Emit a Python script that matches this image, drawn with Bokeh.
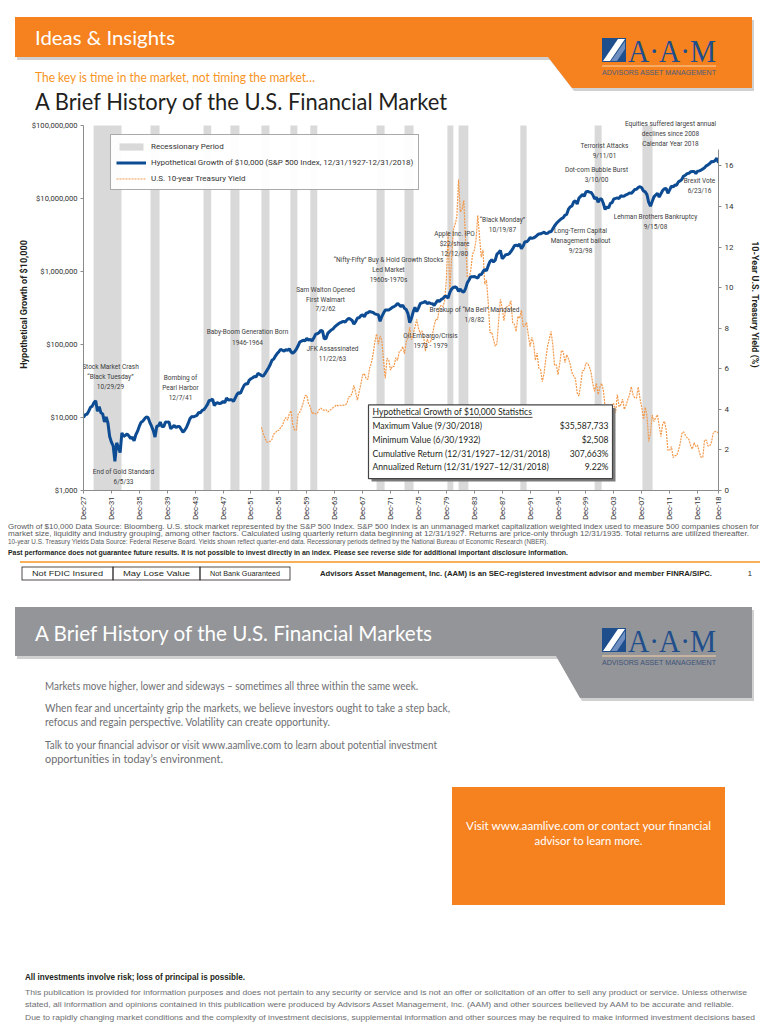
import numpy as np
from html import escape
from bokeh.plotting import figure
from bokeh.models import (Range1d, LinearAxis, LinearScale, FixedTicker, NumeralTickFormatter,
                          Legend, LegendItem, Div, LabelSet, ColumnDataSource)
from bokeh.layouts import column
from bokeh.embed import file_html
from bokeh.resources import INLINE
from bokeh.core.properties import value

NARROW = "Roboto"
SANS = "Lato"
SERIF = "Liberation Serif"

# ---------------- data ----------------
# Hypothetical growth of $10,000 (thousands of $), quarter ends from Dec-1927 to Dec-2018
growth_k = [
    10.0,
    10.93, 11.10, 12.20, 13.79,   # 1928
    14.30, 16.00, 17.00, 12.15,   # 1929
    14.10, 11.60, 11.20, 8.69,    # 1930
    10.20, 8.40, 5.50, 4.60,      # 1931
    4.10, 2.508, 4.50, 3.90,      # 1932
    3.31, 6.17, 5.50, 5.72,       # 1933
    5.95, 5.60, 5.15, 5.38,       # 1934
    4.80, 5.80, 6.50, 7.60,       # 1935
    8.60, 8.90, 9.60, 10.18,      # 1936
    10.00, 8.60, 7.60, 6.61,      # 1937
    5.40, 7.60, 7.70, 8.67,       # 1938
    7.50, 7.50, 8.70, 8.64,       # 1939
    8.70, 7.00, 7.40, 7.79,       # 1940
    7.30, 7.50, 7.50, 6.89,       # 1941
    6.30, 6.70, 7.30, 8.29,       # 1942
    9.60, 10.30, 10.20, 10.43,    # 1943
    10.70, 11.70, 11.60, 12.50,   # 1944
    12.80, 13.80, 15.00, 17.05,   # 1945
    17.20, 17.90, 14.60, 15.67,   # 1946
    15.90, 15.50, 15.80, 16.56,   # 1947
    15.90, 18.50, 17.30, 17.47,   # 1948
    17.50, 16.60, 18.60, 20.76,   # 1949
    21.90, 21.50, 24.50, 27.34,   # 1950
    29.10, 28.60, 32.50, 33.90,   # 1951
    35.00, 36.30, 36.10, 40.14,   # 1952
    39.00, 37.50, 36.80, 39.74,   # 1953
    43.50, 47.60, 52.80, 60.64,   # 1954
    63.00, 69.30, 75.00, 79.80,   # 1955
    86.00, 83.50, 81.00, 85.07,   # 1956
    83.00, 87.50, 79.00, 75.88,   # 1957
    80.00, 86.00, 96.00, 108.8,   # 1958
    111.0, 114.5, 112.0, 121.9,   # 1959
    114.0, 118.0, 112.0, 122.5,   # 1960
    138.0, 140.0, 145.0, 155.4,   # 1961
    153.0, 119.5, 121.0, 141.9,   # 1962
    150.0, 158.0, 163.0, 174.3,   # 1963
    183.0, 191.0, 198.0, 203.0,   # 1964
    207.0, 202.0, 218.0, 228.4,   # 1965
    222.0, 213.0, 190.0, 205.3,   # 1966
    230.0, 232.0, 248.0, 254.6,   # 1967
    240.0, 268.0, 272.0, 282.9,   # 1968
    278.0, 275.0, 263.0, 258.8,   # 1969
    255.0, 208.0, 242.0, 269.2,   # 1970
    296.0, 297.0, 297.0, 307.7,   # 1971
    323.0, 331.0, 342.0, 366.1,   # 1972
    348.0, 330.0, 346.0, 312.3,   # 1973
    301.0, 265.0, 199.0, 229.5,   # 1974
    280.0, 322.0, 282.0, 314.9,   # 1975
    362.0, 372.0, 378.0, 389.9,   # 1976
    362.0, 374.0, 364.0, 361.8,   # 1977
    344.0, 372.0, 404.0, 385.7,   # 1978
    414.0, 425.0, 454.0, 456.6,   # 1979
    431.0, 518.0, 574.0, 604.6,   # 1980
    614.0, 596.0, 536.0, 575.0,   # 1981
    534.0, 522.0, 582.0, 698.0,   # 1982
    764.0, 849.0, 844.0, 855.1,   # 1983
    833.0, 811.0, 902.0, 908.9,   # 1984
    994.0, 1070.0, 1025.0, 1201.6,    # 1985
    1370.0, 1450.0, 1350.0, 1423.9,   # 1986
    1727.0, 1815.0, 1932.0, 1497.9,   # 1987
    1585.0, 1697.0, 1703.0, 1749.6,   # 1988
    1875.0, 2035.0, 2252.0, 2300.7,   # 1989
    2232.0, 2371.0, 2046.0, 2229.4,   # 1990
    2550.0, 2545.0, 2680.0, 2909.4,   # 1991
    2836.0, 2890.0, 2981.0, 3130.5,   # 1992
    3267.0, 3282.0, 3365.0, 3446.7,   # 1993
    3316.0, 3330.0, 3493.0, 3491.5,   # 1994
    3831.0, 4197.0, 4530.0, 4804.3,   # 1995
    5062.0, 5288.0, 5452.0, 5909.3,   # 1996
    6068.0, 7127.0, 7661.0, 7883.0,   # 1997
    8982.0, 9279.0, 8356.0, 10137.0,  # 1998
    10642.0, 11391.0, 10680.0, 12266.0,   # 1999
    12547.0, 12213.0, 12094.0, 11150.0,   # 2000
    9828.0, 10404.0, 8877.0, 9823.0,      # 2001
    9850.0, 8531.0, 7058.0, 7652.0,       # 2002
    7411.0, 8552.0, 8778.0, 9848.0,       # 2003
    10015.0, 10187.0, 9997.0, 10922.0,    # 2004
    10687.0, 10832.0, 11222.0, 11457.0,   # 2005
    11924.0, 11752.0, 12418.0, 13267.0,   # 2006
    13351.0, 14186.0, 14475.0, 13997.0,   # 2007
    12673.0, 12327.0, 11296.0, 8818.0,    # 2008
    7848.0, 9102.0, 10522.0, 11155.0,     # 2009
    11755.0, 10433.0, 11619.0, 12839.0,   # 2010
    13579.0, 13652.0, 11759.0, 13109.0,   # 2011
    14759.0, 14354.0, 15265.0, 15206.0,   # 2012
    16900.0, 17400.0, 18300.0, 20300.0,   # 2013
    20800.0, 21900.0, 22100.0, 23200.0,   # 2014
    23450.0, 23500.0, 22000.0, 23550.0,   # 2015
    23870.0, 24480.0, 25420.0, 26380.0,   # 2016
    27980.0, 28850.0, 30140.0, 32130.0,   # 2017
    31900.0, 32990.0, 35587.7, 30776.0,   # 2018
]

# U.S. 10-year Treasury yield (%), quarter ends from Jun-1953 to Dec-2018
yield_pct = [
    3.11, 2.82, 2.59,             # 1953
    2.39, 2.38, 2.43, 2.51,       # 1954
    2.78, 2.84, 2.97, 2.96,       # 1955
    3.10, 3.20, 3.45, 3.59,       # 1956
    3.46, 3.80, 3.93, 3.21,       # 1957
    2.98, 2.97, 3.76, 3.86,       # 1958
    4.06, 4.34, 4.68, 4.69,       # 1959
    4.28, 4.13, 3.80, 3.84,       # 1960
    3.78, 3.80, 3.98, 4.06,       # 1961
    3.98, 3.95, 3.98, 3.87,       # 1962
    3.93, 4.00, 4.08, 4.14,       # 1963
    4.22, 4.17, 4.20, 4.18,       # 1964
    4.21, 4.21, 4.29, 4.62,       # 1965
    4.63, 4.81, 5.18, 4.84,       # 1966
    4.45, 4.86, 5.24, 5.70,       # 1967
    5.76, 5.50, 5.48, 6.03,       # 1968
    6.28, 6.72, 7.32, 7.72,       # 1969
    7.21, 7.62, 7.39, 6.39,       # 1970
    5.53, 6.52, 6.42, 5.93,       # 1971
    6.12, 6.11, 6.55, 6.41,       # 1972
    6.85, 6.90, 7.09, 6.74,       # 1973
    7.33, 7.54, 8.04, 7.43,       # 1974
    7.73, 8.06, 8.43, 8.00,       # 1975
    7.73, 7.86, 7.58, 6.87,       # 1976
    7.46, 7.28, 7.34, 7.69,       # 1977
    8.11, 8.46, 8.42, 9.01,       # 1978
    9.12, 9.06, 9.33, 10.39,      # 1979
    12.75, 9.78, 11.51, 12.84,    # 1980
    13.12, 13.47, 15.32, 13.72,   # 1981
    13.86, 14.30, 12.34, 10.54,   # 1982
    10.51, 10.85, 11.65, 11.83,   # 1983
    12.32, 13.56, 12.53, 11.50,   # 1984
    11.86, 10.16, 10.37, 9.26,    # 1985
    7.78, 7.80, 7.45, 7.11,       # 1986
    7.25, 8.40, 9.42, 8.99,       # 1987
    8.37, 8.92, 9.10, 9.11,       # 1988
    9.36, 8.28, 8.19, 7.84,       # 1989
    8.59, 8.48, 8.89, 8.08,       # 1990
    8.11, 8.28, 7.65, 7.09,       # 1991
    7.54, 7.26, 6.42, 6.77,       # 1992
    6.03, 5.96, 5.36, 5.77,       # 1993
    6.48, 7.10, 7.46, 7.84,       # 1994
    7.20, 6.17, 6.20, 5.71,       # 1995
    6.27, 6.91, 6.83, 6.30,       # 1996
    6.69, 6.49, 6.21, 5.81,       # 1997
    5.65, 5.50, 4.81, 4.65,       # 1998
    5.23, 5.90, 5.92, 6.28,       # 1999
    6.26, 6.10, 5.80, 5.24,       # 2000
    4.89, 5.28, 4.73, 5.09,       # 2001
    5.28, 4.93, 4.14, 4.03,       # 2002
    3.81, 3.33, 4.27, 4.27,       # 2003
    3.83, 4.73, 4.13, 4.23,       # 2004
    4.50, 4.00, 4.20, 4.47,       # 2005
    4.72, 5.11, 4.72, 4.56,       # 2006
    4.56, 5.10, 4.52, 4.10,       # 2007
    3.51, 4.10, 3.69, 2.42,       # 2008
    2.82, 3.72, 3.40, 3.59,       # 2009
    3.73, 3.20, 2.65, 3.29,       # 2010
    3.41, 3.00, 1.98, 1.98,       # 2011
    2.17, 1.62, 1.72, 1.72,       # 2012
    1.96, 2.30, 2.81, 2.90,       # 2013
    2.72, 2.60, 2.53, 2.21,       # 2014
    2.04, 2.36, 2.17, 2.24,       # 2015
    1.89, 1.64, 1.63, 2.49,       # 2016
    2.48, 2.19, 2.20, 2.40,       # 2017
    2.84, 2.91, 2.89, 2.83,       # 2018
]

# recessionary periods (decimal years, as drawn)
rec_start = [1929.45, 1937.60, 1945.20, 1949.05, 1953.50, 1957.65, 1960.50, 1970.00,
             1974.00, 1980.15, 1981.75, 1990.60, 2001.25, 2008.10]
rec_end = [1933.45, 1938.90, 1946.30, 1950.35, 1954.65, 1958.65, 1961.50, 1971.15,
           1975.30, 1981.00, 1983.15, 1991.50, 2002.25, 2009.55]

x_tick_labels = ["Dec-27", "Dec-31", "Dec-35", "Dec-39", "Dec-43", "Dec-47", "Dec-51",
                 "Dec-55", "Dec-59", "Dec-63", "Dec-67", "Dec-71", "Dec-75", "Dec-79",
                 "Dec-83", "Dec-87", "Dec-91", "Dec-95", "Dec-99", "Dec-03", "Dec-07",
                 "Dec-11", "Dec-15", "Dec-18"]
left_ticks = [1e3, 1e4, 1e5, 1e6, 1e7, 1e8]
right_ticks = [0, 2, 4, 6, 8, 10, 12, 14, 16]

stat_labels = ["Maximum Value (9/30/2018)", "Minimum Value (6/30/1932)",
               "Cumulative Return (12/31/1927\u201312/31/2018)",
               "Annualized Return (12/31/1927\u201312/31/2018)"]
stat_values = ["$35,587,733", "$2,508", "307,663%", "9.22%"]

# event notes: text lines, centre x and first-line centre y (page pixels)
annotations = [
    ("Stock Market Crash\n\u201cBlack Tuesday\u201d\n10/29/29", 110, 368),
    ("End of Gold Standard\n6/5/33", 123, 473),
    ("Bombing of\nPearl Harbor\n12/7/41", 180, 379),
    ("Baby-Boom Generation Born\n1946-1964", 247, 333),
    ("JFK Assassinated\n11/22/63", 332, 350),
    ("Sam Walton Opened\nFirst Walmart\n7/2/62", 325, 290),
    ("\u201cNifty-Fifty\u201d Buy & Hold Growth Stocks\nLed Market\n1960s-1970s", 388, 260),
    ("Oil Embargo/Crisis\n1973 - 1979", 430, 337),
    ("Breakup of \u201cMa Bell\u201d Mandated\n1/8/82", 474, 311),
    ("Apple Inc. IPO\n$22/share\n12/12/80", 454, 234),
    ("\u201cBlack Monday\u201d\n10/19/87", 502, 220),
    ("Long-Term Capital\nManagement bailout\n9/23/98", 580, 231),
    ("Dot-com Bubble Burst\n3/10/00", 596, 170),
    ("Terrorist Attacks\n9/11/01", 604, 146),
    ("Lehman Brothers Bankruptcy\n9/15/08", 655, 217),
    ("Brexit Vote\n6/23/16", 699, 181),
    ("Equities suffered largest annual\ndeclines since 2008\nCalendar Year 2018", 670, 124),
]

# ---------------- chart geometry helpers (page pixel -> data) ----------------
PAGE_W = 768
FR_L, FR_R, FR_T, FR_B = 83, 718, 118, 492
CHART_T, CHART_B = 118, 522
X0, X1 = 1928.0, 2019.0
PX_YR = (FR_R - FR_L) / (X1 - X0)
PX_DEC = 73.4
PX_PCT = 20.4
LINE_STEP = 10


def X(px):
    return X0 + (px - FR_L) / PX_YR


def Y(py):
    return 10 ** (3 + (FR_B - py) / PX_DEC)


YTOP = Y(FR_T)
RTOP = (FR_B - FR_T) / PX_PCT

growth = [g * 1000 for g in growth_k]
gx = [X0 + 0.25 * i for i in range(len(growth))]
yx = [1953.5 + 0.25 * i for i in range(len(yield_pct))]

AX = "#8C8C8C"
TXT = "#333333"
BLUE = "#0D4C93"
ORANGE = "#F5821F"

p = figure(width=PAGE_W, height=CHART_B - CHART_T, x_range=Range1d(X0, X1),
           y_range=Range1d(1000, YTOP), y_axis_type="log", output_backend="svg",
           toolbar_location=None, min_border_left=FR_L, min_border_right=PAGE_W - FR_R,
           min_border_top=FR_T - CHART_T, min_border_bottom=CHART_B - FR_B, margin=0)
p.extra_y_ranges = {"yield": Range1d(0, RTOP)}
p.extra_y_scales = {"yield": LinearScale()}
p.grid.grid_line_color = None
p.outline_line_color = None

rq = p.quad(left=rec_start, right=rec_end, bottom=1000, top=1e8,
            fill_color="#D9D9D9", line_color=None)
yl = p.line(yx, yield_pct, y_range_name="yield", line_width=1.2, line_color="#F39A4C",
            line_dash="2 1")
gl = p.line(gx, growth, line_width=3, line_color=BLUE)

ya = p.yaxis[0]
ya.ticker = FixedTicker(ticks=left_ticks)
ya.formatter = NumeralTickFormatter(format="$0,0")
ya.bounds = (1e3, 1e8)
ya.axis_label = "Hypothetical Growth of $10,000"

ra = LinearAxis(y_range_name="yield", ticker=FixedTicker(ticks=right_ticks), bounds=(0, 16.8),
                axis_label="10-Year U.S. Treasury Yield (%)")
p.add_layout(ra, "right")

xa = p.xaxis[0]
tick_pos = []
for lab in x_tick_labels:
    yy = int(lab[-2:])
    yy = 1900 + yy if yy > 20 else 2000 + yy
    tick_pos.append(yy + 1)
xa.ticker = FixedTicker(ticks=tick_pos)
xa.major_label_overrides = {tp: lab for tp, lab in zip(tick_pos, x_tick_labels)}
xa.major_label_orientation = np.pi / 2

for ax in [ya, ra, xa]:
    ax.axis_line_color = AX
    ax.major_tick_line_color = AX
    ax.minor_tick_line_color = None
    ax.major_tick_out = 3
    ax.major_tick_in = 0
    ax.major_label_text_font = NARROW
    ax.major_label_text_font_size = "8px"
    ax.major_label_text_color = TXT
    ax.axis_label_text_font = NARROW
    ax.axis_label_text_font_size = "9px"
    ax.axis_label_text_font_style = "bold"
    ax.axis_label_text_color = "#231F20"
    ax.major_label_standoff = 3
ya.major_label_text_font_size = "7.6px"
ya.axis_label_standoff = 0
ra.axis_label_standoff = 14
xa.major_label_text_font_size = "7.5px"

legend = Legend(items=[
    LegendItem(label="Recessionary Period", renderers=[rq]),
    LegendItem(label="Hypothetical Growth of $10,000 (S&P 500 Index, 12/31/1927-12/31/2018)",
               renderers=[gl]),
    LegendItem(label="U.S. 10-year Treasury Yield", renderers=[yl]),
], location=(27, 300))
legend.label_text_font = NARROW
legend.label_text_font_size = "8px"
legend.label_text_color = TXT
legend.glyph_width = 30
legend.glyph_height = 9
legend.label_height = 12
legend.spacing = 4
legend.padding = 5
legend.margin = 0
legend.label_standoff = 5
legend.border_line_color = "#555555"
legend.border_line_width = 1
p.add_layout(legend)

ax_, ay_, at_ = [], [], []
for s, px, py in annotations:
    for i, ln in enumerate(s.split("\n")):
        ax_.append(X(px))
        ay_.append(Y(py + LINE_STEP * i))
        at_.append(ln)
p.add_layout(LabelSet(x="x", y="y", text="text",
                      source=ColumnDataSource(data=dict(x=ax_, y=ay_, text=at_)),
                      text_align="center", text_baseline="middle", text_font=value(NARROW),
                      text_font_size="6.5px", text_color="#404040"))

# statistics box
p.quad(left=X(371), right=X(615), top=Y(409), bottom=Y(483), fill_color="#7A7A7A",
       line_color=None)
p.quad(left=X(368), right=X(612), top=Y(406), bottom=Y(480), fill_color="white",
       line_color="#444444", line_width=1.2)
p.text(x=[X(372)], y=[Y(413)], text=["Hypothetical Growth of $10,000 Statistics"],
       text_font=value(SANS), text_font_size="8.6px", text_color="#231F20",
       text_baseline="middle")
p.segment(x0=[X(372)], y0=[Y(418.5)], x1=[X(532)], y1=[Y(418.5)], line_color="#231F20",
          line_width=0.8)
row_y = [Y(427), Y(441), Y(455), Y(468)]
p.text(x=[X(372)] * 4, y=row_y, text=stat_labels, text_font=value(SANS),
       text_font_size="8.6px", text_color="#231F20", text_baseline="middle")
p.text(x=[X(608)] * 4, y=row_y, text=stat_values, text_font=value(SANS),
       text_font_size="8.6px", text_color="#231F20", text_baseline="middle",
       text_align="right")


# ---------------- page sections as inline SVG (page pixel coordinates) ----------------
def t(x, y, s, size, color="#231F20", font=SANS, weight="normal", anchor="start", length=None):
    a = (f'x="{x}" y="{y}" style="font-family:\'{font}\';font-size:{size}px;'
         f'font-weight:{weight}" fill="{color}" text-anchor="{anchor}" '
         f'dominant-baseline="central"')
    if length:
        a += f' textLength="{length}" lengthAdjust="spacingAndGlyphs"'
    return f'<text {a}>{escape(s)}</text>'


def poly(xs, ys, fill):
    pts = " ".join(f"{a},{b}" for a, b in zip(xs, ys))
    return f'<polygon points="{pts}" fill="{fill}"/>'


def rect(l, tp, r, b, fill="none", stroke="none", sw=1):
    return (f'<rect x="{l}" y="{tp}" width="{r - l}" height="{b - tp}" fill="{fill}" '
            f'stroke="{stroke}" stroke-width="{sw}"/>')


def line(x0, y0, x1, y1, stroke, sw):
    return f'<line x1="{x0}" y1="{y0}" x2="{x1}" y2="{y1}" stroke="{stroke}" stroke-width="{sw}"/>'


def logo(dy, sub_color):
    return "".join([
        rect(602, 38 + dy, 626, 62 + dy, fill="#1F4E8C"),
        poly([603, 610, 625, 618], [61 + dy, 61 + dy, 39 + dy, 39 + dy], "white"),
        poly([611, 617, 625, 625], [61 + dy, 61 + dy, 49 + dy, 41 + dy], "#6E8FC0"),
        t(628, 51 + dy, "A\u00b7A\u00b7M", 32, "#1F4E8C", SERIF, length=88),
        line(602, 66 + dy, 716, 66 + dy, "#FBD3A8", 1),
        t(602, 72 + dy, "ADVISORS ASSET MANAGEMENT", 6.4, sub_color, "Liberation Sans",
          length=114),
    ])


def svg(y0, h, body):
    return (f'<svg xmlns="http://www.w3.org/2000/svg" width="{PAGE_W}" height="{h}" '
            f'viewBox="0 {y0} {PAGE_W} {h}" style="display:block">{body}</svg>')


hdr_parts = [
    poly([17, 754, 754, 574, 550, 17], [20, 20, 91, 91, 60, 60], "#D0D0D0"),
    poly([15, 752, 752, 572, 548, 15], [17, 17, 88, 88, 57, 57], ORANGE),
    t(35, 37, "Ideas & Insights", 20, "white", length=140),
    logo(0, "#4A5D7E"),
    t(35, 77, "The key is time in the market, not timing the market\u2026", 12.5, "#F7941D",
      length=280),
    t(35, 100, "A Brief History of the U.S. Financial Market", 24, "#231F20", length=412),
]
hdr = Div(text=svg(0, CHART_T, "".join(hdr_parts)), width=PAGE_W, height=CHART_T, margin=0)

GR = "#58595B"
BODY = "#6D6E71"
foot_lines = [
    ("Growth of $10,000 Data Source: Bloomberg. U.S. stock market represented by the S&P 500 Index. "
     "S&P 500 Index is an unmanaged market capitalization weighted index used to measure 500 "
     "companies chosen for", 7.6, 751),
    ("market size, liquidity and industry grouping, among other factors. Calculated using quarterly "
     "return data beginning at 12/31/1927. Returns are price-only through 12/31/1935. Total returns "
     "are utilized thereafter.", 7.6, 741),
    ("10-year U.S. Treasury Yields Data Source: Federal Reserve Board. Yields shown reflect "
     "quarter-end data. Recessionary periods defined by the National Bureau of Economic Research (NBER).",
     7.2, 540),
]
ftr_parts = []
for i, (s, fs, ln) in enumerate(foot_lines):
    ftr_parts.append(t(8, 526 + 7.7 * i, s, fs, GR, "Liberation Sans", length=ln))
ftr_parts.append(t(8, 552, "Past performance does not guarantee future results. It is not possible "
                   "to invest directly in an index. Please see reverse side for additional "
                   "important disclosure information.", 7.6, "#231F20", "Liberation Sans", "bold",
                   length=560))
ftr_parts.append(line(20, 562, 760, 562, "#F7941D", 1.5))
for l, r, s in [(22, 113, "Not FDIC Insured"), (113, 200, "May Lose Value"),
                (200, 290, "Not Bank Guaranteed")]:
    ftr_parts.append(rect(l, 567, r, 580, stroke="#231F20", sw=0.8))
    ftr_parts.append(t((l + r) / 2, 573.5, s, 7.6, "#231F20", "Liberation Sans", anchor="middle",
                       length=(r - l) - 20))
ftr_parts.append(t(320, 573.5, "Advisors Asset Management, Inc. (AAM) is an SEC-registered "
                   "investment advisor and member FINRA/SIPC.", 7.6, "#231F20", "Liberation Sans",
                   "bold", length=392))
ftr_parts.append(t(752, 573.5, "1", 7.6, "#231F20", "Liberation Sans", anchor="end"))

ftr_parts.append(poly([17, 754, 754, 582, 558, 17], [610, 610, 701, 701, 659, 659], "#D0D0D0"))
ftr_parts.append(poly([15, 752, 752, 580, 556, 15], [607, 607, 698, 698, 656, 656], "#939598"))
ftr_parts.append(t(35, 632, "A Brief History of the U.S. Financial Markets", 22, "white",
                   length=397))
ftr_parts.append(logo(590, "#3E5378"))

body = [(686, "Markets move higher, lower and sideways \u2013 sometimes all three within the same week.", 373),
        (708, "When fear and uncertainty grip the markets, we believe investors ought to take a step back,", 405),
        (722, "refocus and regain perspective.  Volatility can create opportunity.", 285),
        (745, "Talk to your financial advisor or visit www.aamlive.com to learn about potential investment", 392),
        (759, "opportunities in today\u2019s environment.", 178)]
for yy, s, ln in body:
    ftr_parts.append(t(45, yy, s, 10.5, BODY, length=ln))

ftr_parts.append(rect(452, 787, 725, 905, fill=ORANGE))
ftr_parts.append(t(588.5, 825, "Visit www.aamlive.com or contact your financial", 12, "white",
                   anchor="middle", length=245))
ftr_parts.append(t(588.5, 840, "advisor to learn more.", 12, "white", anchor="middle", length=108))

ftr_parts.append(t(25, 977, "All investments involve risk; loss of principal is possible.", 8.5,
                   "#231F20", "Liberation Sans", "bold", length=220))
disc = [
    ("This publication is provided for information purposes and does not pertain to any security or "
     "service and is not an offer or solicitation of an offer to sell any product or service. Unless "
     "otherwise", 722),
    ("stated, all information and opinions contained in this publication were produced by Advisors "
     "Asset Management, Inc. (AAM) and other sources believed by AAM to be accurate and reliable.", 709),
    ("Due to rapidly changing market conditions and the complexity of investment decisions, "
     "supplemental information and other sources may be required to make informed investment "
     "decisions based", 730),
]
for i, (s, ln) in enumerate(disc):
    ftr_parts.append(t(25, 992 + 12.5 * i, s, 7.6, BODY, "Liberation Sans", length=ln))

FTR_H = 500
ftr = Div(text=svg(CHART_B, FTR_H, "".join(ftr_parts)), width=PAGE_W, height=FTR_H, margin=0)

page = column(hdr, p, ftr, spacing=0, margin=0)
open("out.html", "w").write(file_html(page, INLINE))
